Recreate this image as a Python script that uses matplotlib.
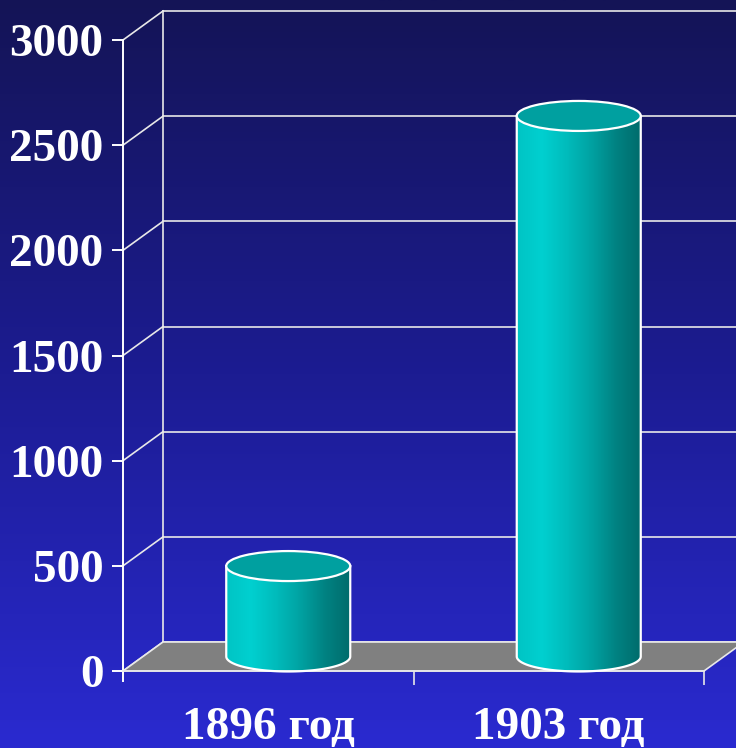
import numpy as np
import matplotlib
matplotlib.use("Agg")
import matplotlib.pyplot as plt
from matplotlib.path import Path
from matplotlib.patches import PathPatch, Ellipse, Polygon
from matplotlib.colors import LinearSegmentedColormap

# data
categories = ["1896 год", "1903 год"]
values = [430, 2570]
yticks = [0, 500, 1000, 1500, 2000, 2500, 3000]

W, H = 736, 748
fig = plt.figure(figsize=(W / 100, H / 100), dpi=100)

# background gradient
bg = fig.add_axes([0, 0, 1, 1])
bg_cmap = LinearSegmentedColormap.from_list("bg", ["#141456", "#1c1c92", "#2a2ad0"])
bg.imshow(np.linspace(0, 1, 256).reshape(-1, 1), aspect="auto", cmap=bg_cmap,
          extent=[0, 1, 0, 1], origin="upper")
bg.set_axis_off()

# front plane of the 3d box, in pixels
x0, x1 = 123, 704
y0, y1 = 671, 40
ax = fig.add_axes([x0 / W, (H - y0) / H, (x1 - x0) / W, (y0 - y1) / H])
ax.patch.set_alpha(0)
ax.set_xlim(0, 2)
ax.set_ylim(0, 3000)

# depth offset (40 px right, 29 px up) in data units
px_x = 2 / (x1 - x0)
px_y = 3000 / (y0 - y1)
dx, dy = 40 * px_x, 29 * px_y

line_c = "#e8e8e8"
# floor
ax.add_patch(Polygon([(0, 0), (2, 0), (2 + dx, dy), (dx, dy)], closed=True,
                     facecolor="#808080", edgecolor=line_c, lw=1.2, clip_on=False, zorder=1))
# back wall grid + diagonals
for v in yticks:
    ax.plot([dx, 2 + dx], [v + dy, v + dy], color=line_c, lw=1.2, clip_on=False, zorder=0.5)
    ax.plot([0, dx], [v, v + dy], color=line_c, lw=1.2, clip_on=False, zorder=0.5)
ax.plot([dx, dx], [dy, 3000 + dy], color=line_c, lw=1.2, clip_on=False, zorder=0.5)

# cylinders
cyl_cmap = LinearSegmentedColormap.from_list(
    "cyl", ["#00c4c4", "#00d0d0", "#00bcbc", "#00a2a2", "#008282", "#006c6c"])
cw = 124 * px_x
eh = 30 * px_y
for i, v in enumerate(values):
    cx = i + 0.5 + dx / 2
    base = dy / 2
    top = base + v
    t = np.linspace(np.pi, 2 * np.pi, 60)
    arc = np.column_stack([cx + cw / 2 * np.cos(t), base + eh / 2 * np.sin(t)])
    verts = np.vstack([[cx - cw / 2, top], arc, [cx + cw / 2, top], [cx - cw / 2, top]])
    body = PathPatch(Path(verts, closed=True), facecolor="none", edgecolor="white",
                     lw=1.6, clip_on=False, zorder=3)
    ax.add_patch(body)
    im = ax.imshow(np.linspace(0, 1, 256).reshape(1, -1), cmap=cyl_cmap, aspect="auto",
                   extent=[cx - cw / 2, cx + cw / 2, base - eh, top], zorder=2.5,
                   clip_on=True)
    im.set_clip_path(body)
    ax.add_patch(Ellipse((cx, top), cw, eh, facecolor="#00a0a0", edgecolor="white",
                         lw=1.6, clip_on=False, zorder=4))
ax.set_xlim(0, 2)
ax.set_ylim(0, 3000)

# axes styling
for s in ["top", "right"]:
    ax.spines[s].set_visible(False)
ax.spines["left"].set_color("white")
ax.spines["bottom"].set_color(line_c)
ax.spines["left"].set_bounds(-10 * px_y, 3000)
ax.spines["left"].set_linewidth(1.4)
ax.spines["bottom"].set_linewidth(1.2)
ax.set_yticks(yticks)
ax.set_yticklabels([str(v) for v in yticks])
ax.tick_params(axis="y", colors="white", length=8, width=1.4, pad=6,
               labelsize=34)
ax.set_xticks([1, 2])
ax.set_xticklabels(["", ""])
ax.tick_params(axis="x", which="major", colors=line_c, length=10, width=1.2)
ax.set_xticks([0.5, 1.5], minor=True)
ax.set_xticklabels(categories, minor=True)
ax.tick_params(axis="x", which="minor", length=0, pad=26, labelsize=34,
               labelcolor="white")
for lab in ax.get_yticklabels() + ax.get_xticklabels(minor=True):
    lab.set_fontfamily("Liberation Serif")
    lab.set_fontweight("bold")

fig.savefig("out.png", dpi=100)
